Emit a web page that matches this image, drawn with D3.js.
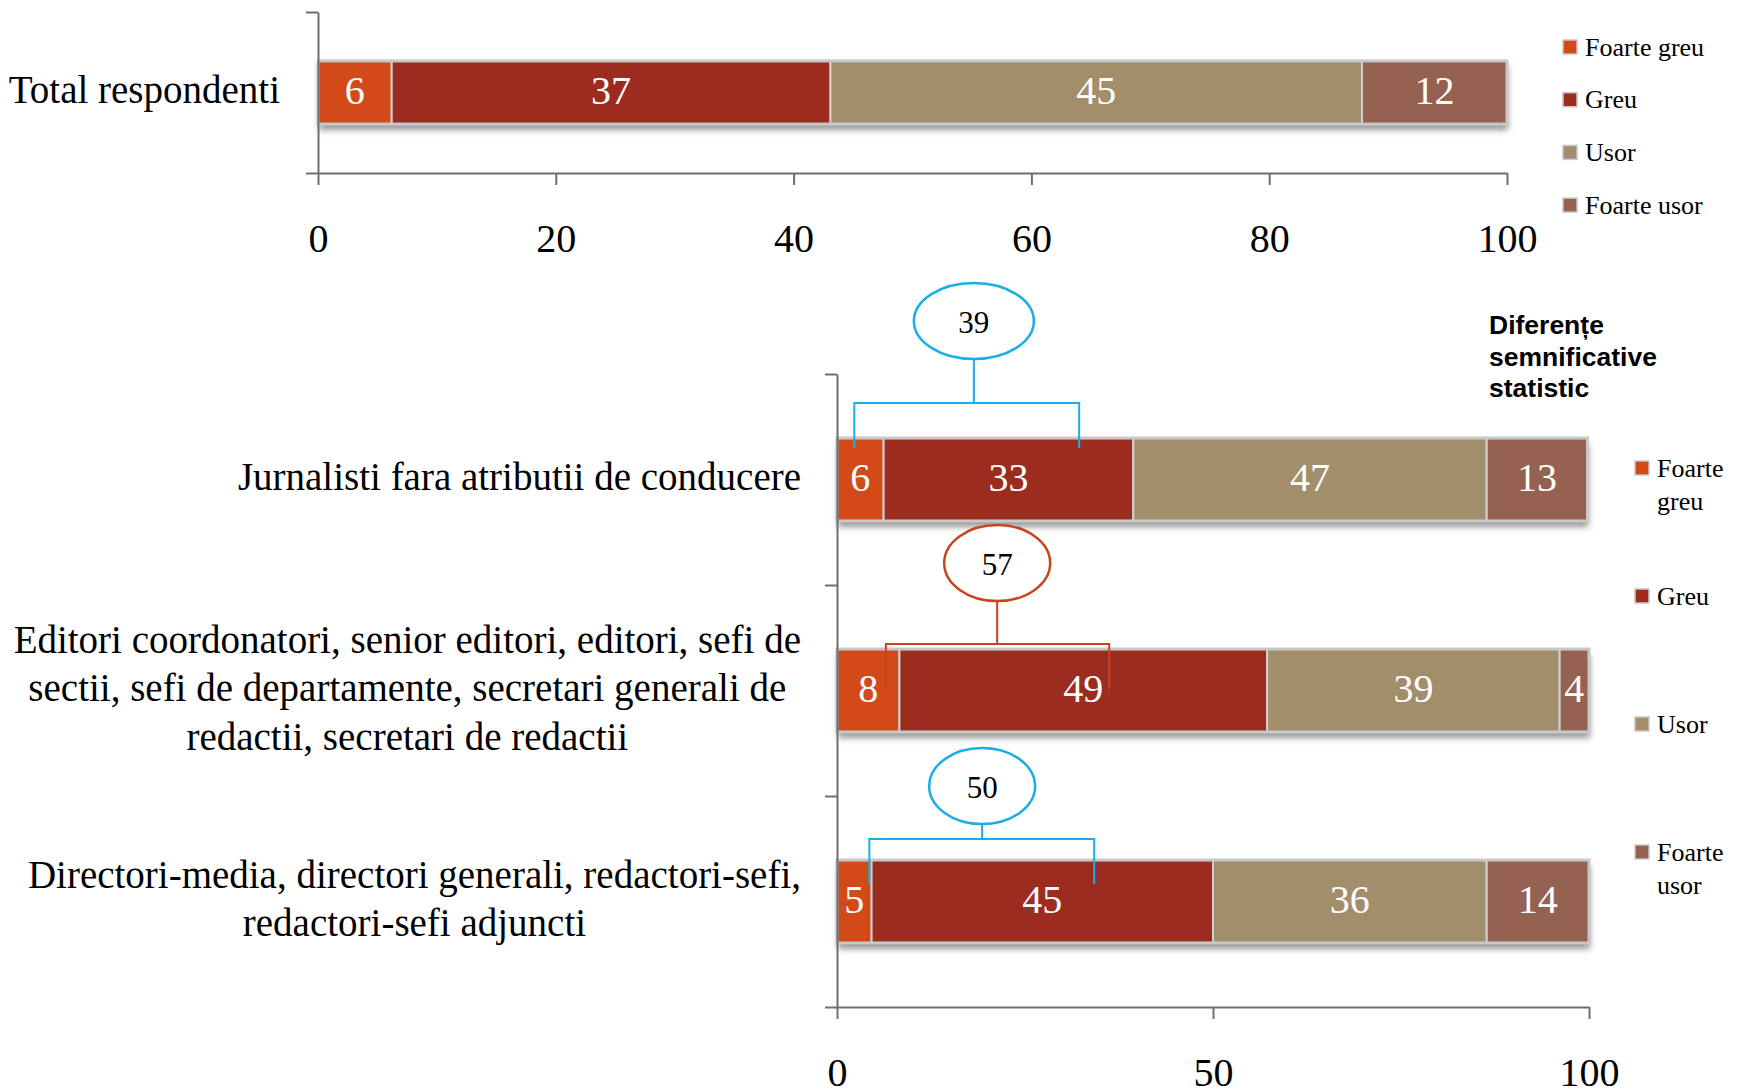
<!DOCTYPE html>
<html>
<head>
<meta charset="utf-8">
<script src="https://cdn.jsdelivr.net/npm/d3@7"></script>
<style>
  body { margin: 0; background: #fff; }
  svg { display: block; }
</style>
</head>
<body>
<svg id="chart" width="1741" height="1092"></svg>
<script>
// ---- data ----
const series = ["Foarte greu", "Greu", "Usor", "Foarte usor"];
const colors = ["#d34a19", "#9b2c1f", "#a38e6b", "#956252"];

const totalCategories = ["Total respondenti"];
const totalValues = [[6.2, 36.9, 44.7, 12.2]];
const totalTicks = [0, 20, 40, 60, 80, 100];

const groupCategories = [
  "Jurnalisti fara atributii de conducere",
  "Editori coordonatori, senior editori, editori, sefi de\nsectii, sefi de departamente, secretari generali de\nredactii, secretari de redactii",
  "Directori-media, directori generali, redactori-sefi,\nredactori-sefi adjuncti"
];
const groupValues = [
  [6.2, 33.2, 47.0, 13.4],
  [8.3, 48.9, 38.9, 3.9],
  [4.6, 45.4, 36.4, 13.6]
];
const groupTicks = [0, 50, 100];

// sums of "Foarte greu" + "Greu" marked as significant differences
const diffSums = [39, 57, 50];
const diffTitle = ["Diferențe", "semnificative", "statistic"];

// ---- layout for the annotations (axis units for x, px offsets from bar top for y) ----
const diffLayout = [
  { cx: 18.2, rx: 60, ry: 38, cy: -117, bracketY: -35, legY: 10, from: 2.3, to: 32.2, color: "#1aaee8" },
  { cx: 21.3, rx: 53, ry: 38, cy: -86, bracketY: -5, legY: 40, from: 6.5, to: 36.2, color: "#c9441c" },
  { cx: 19.3, rx: 53, ry: 38, cy: -74, bracketY: -21, legY: 24, from: 4.3, to: 34.2, color: "#1aaee8" }
];

const serif = "'Liberation Serif', 'Times New Roman', serif";
const sans = "'Liberation Sans', Arial, sans-serif";
const axisColor = "#6e6e6e";

const svg = d3.select("#chart");

const defs = svg.append("defs");
defs.append("filter")
  .attr("id", "shadow")
  .attr("x", "-5%").attr("y", "-30%").attr("width", "110%").attr("height", "170%")
  .append("feDropShadow")
  .attr("dx", 1).attr("dy", 6).attr("stdDeviation", 3)
  .attr("flood-color", "#444").attr("flood-opacity", 0.55);

function drawChart(opts) {
  const { cats, values, x, y, ticks, labelGap, lineHeight } = opts;
  const g = svg.append("g");

  const rows = cats.map((c, i) => {
    const r = { cat: c };
    series.forEach((s, j) => r[s] = values[i][j]);
    return r;
  });
  const stacked = d3.stack().keys(series)(rows);

  // shadow under each bar
  g.append("g").selectAll("rect")
    .data(rows)
    .join("rect")
    .attr("x", x(0))
    .attr("y", d => y(d.cat))
    .attr("width", d => x(d3.sum(series, s => d[s])) - x(0))
    .attr("height", y.bandwidth())
    .attr("fill", "#bbb")
    .attr("filter", "url(#shadow)");

  // segments
  const layer = g.append("g").selectAll("g")
    .data(stacked)
    .join("g")
    .attr("fill", (d, i) => colors[i]);

  layer.selectAll("rect")
    .data(d => d)
    .join("rect")
    .attr("x", d => x(d[0]))
    .attr("y", d => y(d.data.cat))
    .attr("width", d => x(d[1]) - x(d[0]))
    .attr("height", y.bandwidth())
    .attr("stroke", "#d0d0d0")
    .attr("stroke-width", 2);

  // outer border
  g.append("g").selectAll("rect")
    .data(rows)
    .join("rect")
    .attr("x", x(0))
    .attr("y", d => y(d.cat))
    .attr("width", d => x(d3.sum(series, s => d[s])) - x(0))
    .attr("height", y.bandwidth())
    .attr("fill", "none")
    .attr("stroke", "#c8c8c8")
    .attr("stroke-width", 3);

  // value labels
  layer.selectAll("text")
    .data(d => d)
    .join("text")
    .attr("x", d => (x(d[0]) + x(d[1])) / 2)
    .attr("y", d => y(d.data.cat) + y.bandwidth() / 2)
    .attr("dy", "0.29em")
    .attr("text-anchor", "middle")
    .attr("fill", "#fff")
    .style("font-family", serif)
    .style("font-size", "40px")
    .text(d => Math.round(d[1] - d[0]));

  // x axis
  const xAxis = g.append("g")
    .attr("transform", `translate(0,${y.range()[1]})`)
    .call(d3.axisBottom(x).tickValues(ticks).tickSize(12).tickSizeOuter(0).tickPadding(39));
  xAxis.selectAll("path, line").attr("stroke", axisColor).attr("stroke-width", 2);
  xAxis.selectAll("text")
    .attr("fill", "#000")
    .style("font-family", serif)
    .style("font-size", "40px");

  // category axis: ticks between categories
  const yb = d3.scaleLinear().domain([0, cats.length]).range(y.range());
  const yAxis = g.append("g")
    .attr("transform", `translate(${x(0)},0)`)
    .call(d3.axisLeft(yb).tickValues(d3.range(cats.length + 1)).tickFormat("").tickSize(12).tickSizeOuter(0));
  yAxis.selectAll("path, line").attr("stroke", axisColor).attr("stroke-width", 2);

  // category labels
  const right = x(0) - labelGap;
  cats.forEach(c => {
    const lines = c.split("\n");
    const cy = y(c) + y.bandwidth() / 2;
    const t = g.append("text")
      .attr("text-anchor", "middle")
      .attr("fill", "#000")
      .style("font-family", serif)
      .style("font-size", "39px");
    const spans = lines.map((l, i) => t.append("tspan")
      .attr("y", cy + (i - (lines.length - 1) / 2) * lineHeight)
      .attr("dy", "0.27em")
      .text(l));
    const w = d3.max(spans, s => s.node().getComputedTextLength());
    spans.forEach(s => s.attr("x", right - w / 2));
  });

  return g;
}

function drawLegend(x0, y0, step, wrapWidth) {
  const g = svg.append("g");
  series.forEach((s, i) => {
    const cy = y0 + i * step;
    g.append("rect")
      .attr("x", x0).attr("y", cy - 7)
      .attr("width", 14).attr("height", 14)
      .attr("fill", colors[i])
      .attr("stroke", "#c8c8c8").attr("stroke-width", 1.5);
    const t = g.append("text")
      .attr("fill", "#000")
      .style("font-family", serif)
      .style("font-size", "26px");
    // simple word wrap
    const words = s.split(" ");
    let line = [], lineNo = 0;
    let span = t.append("tspan").attr("x", x0 + 22).attr("y", cy).attr("dy", "0.33em");
    words.forEach(wd => {
      line.push(wd);
      span.text(line.join(" "));
      if (span.node().getComputedTextLength() > wrapWidth && line.length > 1) {
        line.pop();
        span.text(line.join(" "));
        line = [wd];
        lineNo++;
        span = t.append("tspan").attr("x", x0 + 22).attr("y", cy + lineNo * 33).attr("dy", "0.33em").text(wd);
      }
    });
  });
}

// ---- top chart ----
const x1 = d3.scaleLinear().domain([0, 100]).range([318, 1507]);
const y1 = d3.scaleBand().domain(totalCategories).range([12, 173]).paddingInner(0.608).paddingOuter(0.304);
drawChart({ cats: totalCategories, values: totalValues, x: x1, y: y1, ticks: totalTicks, labelGap: 38, lineHeight: 48 });
drawLegend(1563, 47, 52.7, 200);

// ---- bottom chart ----
const x2 = d3.scaleLinear().domain([0, 100]).range([837, 1589]);
const y2 = d3.scaleBand().domain(groupCategories).range([374, 1007]).paddingInner(0.607).paddingOuter(0.3035);
drawChart({ cats: groupCategories, values: groupValues, x: x2, y: y2, ticks: groupTicks, labelGap: 36, lineHeight: 48.5 });
drawLegend(1635, 468, 128, 72);

// ---- significance annotations ----
const ann = svg.append("g");
groupCategories.forEach((c, i) => {
  const L = diffLayout[i];
  const top = y2(c);
  const cx = x2(L.cx);
  const cy = top + L.cy;
  const by = top + L.bracketY;
  ann.append("path")
    .attr("d", `M${x2(L.from)},${top + L.legY}V${by}H${x2(L.to)}V${top + L.legY}M${cx},${by}V${cy + L.ry}`)
    .attr("fill", "none")
    .attr("stroke", L.color)
    .attr("stroke-width", 2);
  ann.append("ellipse")
    .attr("cx", cx).attr("cy", cy)
    .attr("rx", L.rx).attr("ry", L.ry)
    .attr("fill", "#fff")
    .attr("stroke", L.color)
    .attr("stroke-width", 2.5);
  ann.append("text")
    .attr("x", cx).attr("y", cy)
    .attr("dy", "0.38em")
    .attr("text-anchor", "middle")
    .attr("fill", "#000")
    .style("font-family", serif)
    .style("font-size", "31px")
    .text(diffSums[i]);
});

svg.append("text")
  .attr("fill", "#000")
  .style("font-family", sans)
  .style("font-weight", "bold")
  .style("font-size", "26.5px")
  .selectAll("tspan")
  .data(diffTitle)
  .join("tspan")
  .attr("x", 1489)
  .attr("y", (d, i) => 334 + i * 31.5)
  .text(d => d);
</script>
</body>
</html>
